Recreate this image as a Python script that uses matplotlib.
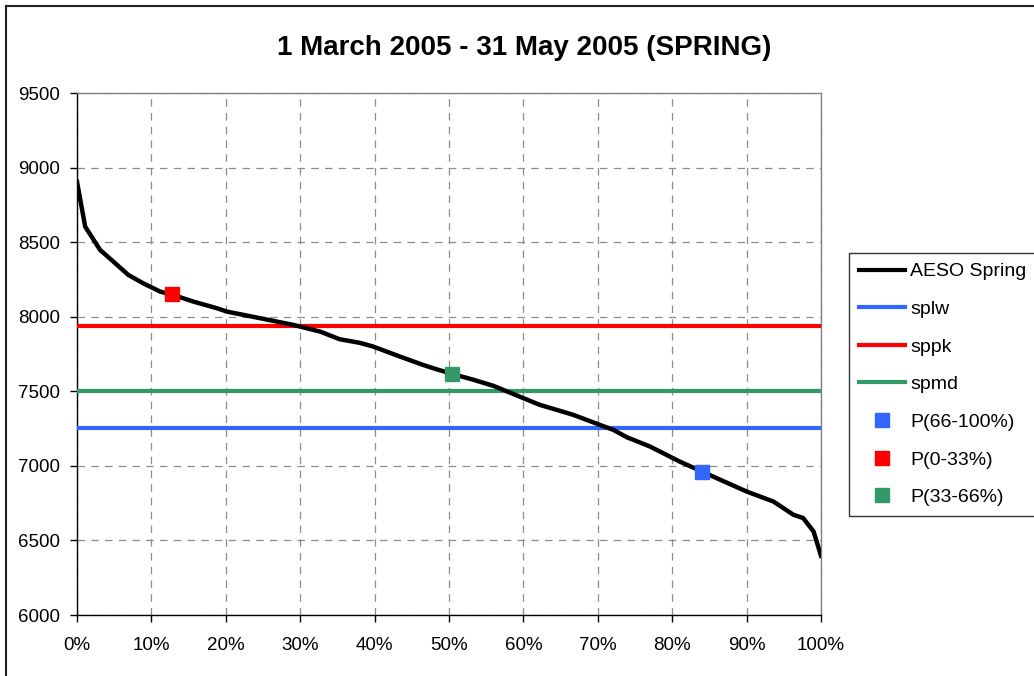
import matplotlib
matplotlib.use("Agg")
import matplotlib.pyplot as plt
from matplotlib.lines import Line2D
from matplotlib.ticker import PercentFormatter, MultipleLocator
import numpy as np

plt.rcParams['font.family'] = ['Liberation Sans', 'DejaVu Sans']

# duration curve (percent of time, MW)
pct = [0, 1.1, 3.1, 4.9, 6.9, 8.9, 11.2, 13, 15.6, 18.8, 20.1, 24.6, 29.1,
       32.7, 35.3, 38, 39.8, 43.4, 46.5, 48.3, 50.4, 53.3, 56, 60, 62.2, 64.5,
       66.7, 69.9, 72.1, 73.9, 75.7, 77, 81, 84, 86, 90, 93.6, 96.3, 97.6,
       99, 100]
mw = [8905, 8604, 8448, 8369, 8280, 8224, 8168, 8145, 8102, 8057, 8035, 7990,
      7945, 7900, 7849, 7825, 7800, 7733, 7677, 7648, 7617, 7577, 7536, 7454,
      7409, 7375, 7342, 7282, 7241, 7192, 7156, 7130, 7029, 6962, 6917, 6828,
      6761, 6672, 6650, 6560, 6397]

# flat levels
splw = 7255
sppk = 7940
spmd = 7500

# representative points
p_names = ['P(66-100%)', 'P(0-33%)', 'P(33-66%)']
p_x = [84, 12.8, 50.4]
p_y = [6962, 8152, 7617]

c_blue = '#3366FF'
c_red = '#FF0000'
c_green = '#339966'
p_cols = [c_blue, c_red, c_green]

fig = plt.figure(figsize=(10.34, 6.76), dpi=100, facecolor='white')
ax = fig.add_axes([77/1034, 1-615/676, (821-77)/1034, (615-93)/676])

ax.plot(pct, mw, color='black', lw=3.2, solid_joinstyle='round', zorder=4)
ax.plot([0, 100], [splw, splw], color=c_blue, lw=3, zorder=3)
ax.plot([0, 100], [sppk, sppk], color=c_red, lw=3, zorder=3)
ax.plot([0, 100], [spmd, spmd], color=c_green, lw=3, zorder=3)
for x, y, c in zip(p_x, p_y, p_cols):
    ax.plot([x], [y], marker='s', ms=10.5, color=c, ls='none', zorder=5)

ax.set_xlim(0, 100)
ax.set_ylim(6000, 9500)
ax.xaxis.set_major_locator(MultipleLocator(10))
ax.yaxis.set_major_locator(MultipleLocator(500))
ax.xaxis.set_major_formatter(PercentFormatter(xmax=100, decimals=0))
ax.grid(True, color='#8c8c8c', ls=(0, (6, 5)), lw=0.9)
ax.set_axisbelow(True)
ax.tick_params(labelsize=13.5, length=5, width=1, colors='black')
ax.tick_params(axis='x', pad=11)
ax.tick_params(axis='y', pad=7)
ax.spines['left'].set_color('black')
ax.spines['bottom'].set_color('black')
ax.spines['top'].set_color('#808080')
ax.spines['right'].set_color('#808080')
for s in ax.spines.values():
    s.set_linewidth(1)

fig.text(524/1034, 1-48/676, '1 March 2005 - 31 May 2005 (SPRING)',
         ha='center', va='center', fontsize=20, fontweight='bold')

handles = [Line2D([], [], color='black', lw=3),
           Line2D([], [], color=c_blue, lw=3),
           Line2D([], [], color=c_red, lw=3),
           Line2D([], [], color=c_green, lw=3)]
for c in p_cols:
    handles.append(Line2D([], [], color=c, marker='s', ms=10.5, ls='none'))
labels = ['AESO Spring', 'splw', 'sppk', 'spmd'] + p_names
leg = fig.legend(handles, labels, loc='upper left',
                 bbox_to_anchor=(849/1034, 1-253/676), fontsize=14,
                 frameon=True, fancybox=False, edgecolor='black',
                 handlelength=2.4, handletextpad=0.25, labelspacing=1.03,
                 borderpad=0.5, borderaxespad=0)
leg.get_frame().set_linewidth(1)

# outer chart border
fig.add_artist(Line2D([5.5/1034, 1.0], [1-5.5/676, 1-5.5/676],
                      transform=fig.transFigure, color='#202020', lw=1.5))
fig.add_artist(Line2D([5.5/1034, 5.5/1034], [0, 1-5.5/676],
                      transform=fig.transFigure, color='#202020', lw=1.5))

fig.savefig('out.png', dpi=100, facecolor='white')
